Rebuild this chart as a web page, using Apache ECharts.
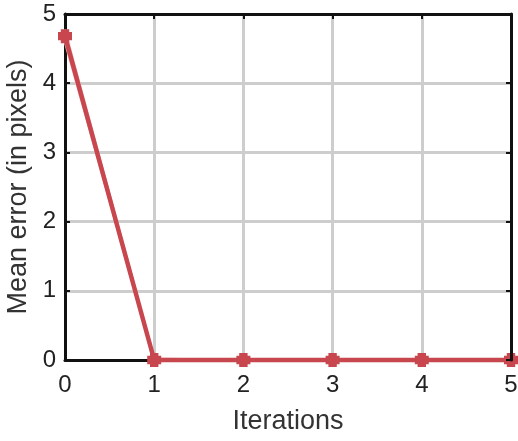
<!DOCTYPE html>
<html><head><meta charset="utf-8">
<script src="https://cdn.jsdelivr.net/npm/echarts@6/dist/echarts.min.js"></script>
<style>html,body{margin:0;padding:0;background:#fff}#c{width:518px;height:441px}</style>
</head><body><div id="c"></div>
<script>
var iterations = [0, 1, 2, 3, 4, 5];
var meanError = [4.68, 0, 0, 0, 0, 0];
var upperBand = [4.78, 0.02, 0, 0, 0, 0];
var lowerBand = [4.58, 0, 0, 0, 0, 0];
var yTicks = [0, 1, 2, 3, 4, 5];

function pairs(v){ return iterations.map(function(x,i){ return [x, v[i]]; }); }
var red = '#c8464e';
var font = 'Liberation Sans';
var boxAxis = {show: true, onZero: false, lineStyle: {color: '#111', width: 3}};
var chart = echarts.init(document.getElementById('c'));
chart.setOption({
  animation: false,
  grid: {left: 65, right: 7, top: 14, bottom: 81, outerBoundsMode: 'none', containLabel: false},
  xAxis: [{
    type: 'value', min: 0, max: 5, interval: 1,
    name: 'Iterations', nameLocation: 'middle', nameGap: 48,
    nameTextStyle: {fontFamily: font, fontSize: 27, color: '#333'},
    axisLine: {show: true, onZero: false, lineStyle: {color: '#111', width: 3}},
    axisTick: {show: true, inside: true, length: 5, lineStyle: {color: '#111', width: 2}},
    axisLabel: {fontFamily: font, fontSize: 24, color: '#222', margin: 13},
    splitLine: {show: true, lineStyle: {color: '#cdcdcd', width: 3}}
  }, {
    type: 'value', min: 0, max: 5, interval: 1, position: 'top',
    axisLine: boxAxis, axisTick: {show: true, inside: true, length: 5, lineStyle: {color: '#111', width: 2}},
    axisLabel: {show: false}, splitLine: {show: false}, z: 10
  }],
  yAxis: [{
    type: 'value', min: 0, max: 5, interval: 1,
    name: 'Mean error (in pixels)', nameLocation: 'middle', nameGap: 28,
    nameTextStyle: {fontFamily: font, fontSize: 27, color: '#333'},
    axisLine: {show: true, onZero: false, lineStyle: {color: '#111', width: 3}},
    axisTick: {show: true, inside: true, length: 5, lineStyle: {color: '#111', width: 2}},
    axisLabel: {fontFamily: font, fontSize: 24, color: '#222', margin: 9,
      formatter: function(v){ return yTicks.indexOf(v) >= 0 ? String(v) : ''; }},
    splitLine: {show: true, lineStyle: {color: '#cdcdcd', width: 3}}
  }, {
    type: 'value', min: 0, max: 5, interval: 1, position: 'right',
    axisLine: boxAxis, axisTick: {show: true, inside: true, length: 5, lineStyle: {color: '#111', width: 2}},
    axisLabel: {show: false}, splitLine: {show: false}, z: 10
  }],
  series: [
    {type: 'line', data: pairs(upperBand), symbol: 'none', lineStyle: {color: '#f0b8bb', width: 2}, z: 2},
    {type: 'line', data: pairs(lowerBand), symbol: 'none', lineStyle: {color: '#f0b8bb', width: 2}, z: 2},
    {type: 'line', data: pairs(meanError),
     symbol: 'path://M2,0H8V2H10V8H8V10H2V8H0V2H2Z', symbolSize: 14,
     itemStyle: {color: red}, lineStyle: {color: red, width: 4.5}, clip: false, z: 5}
  ]
});
</script></body></html>
